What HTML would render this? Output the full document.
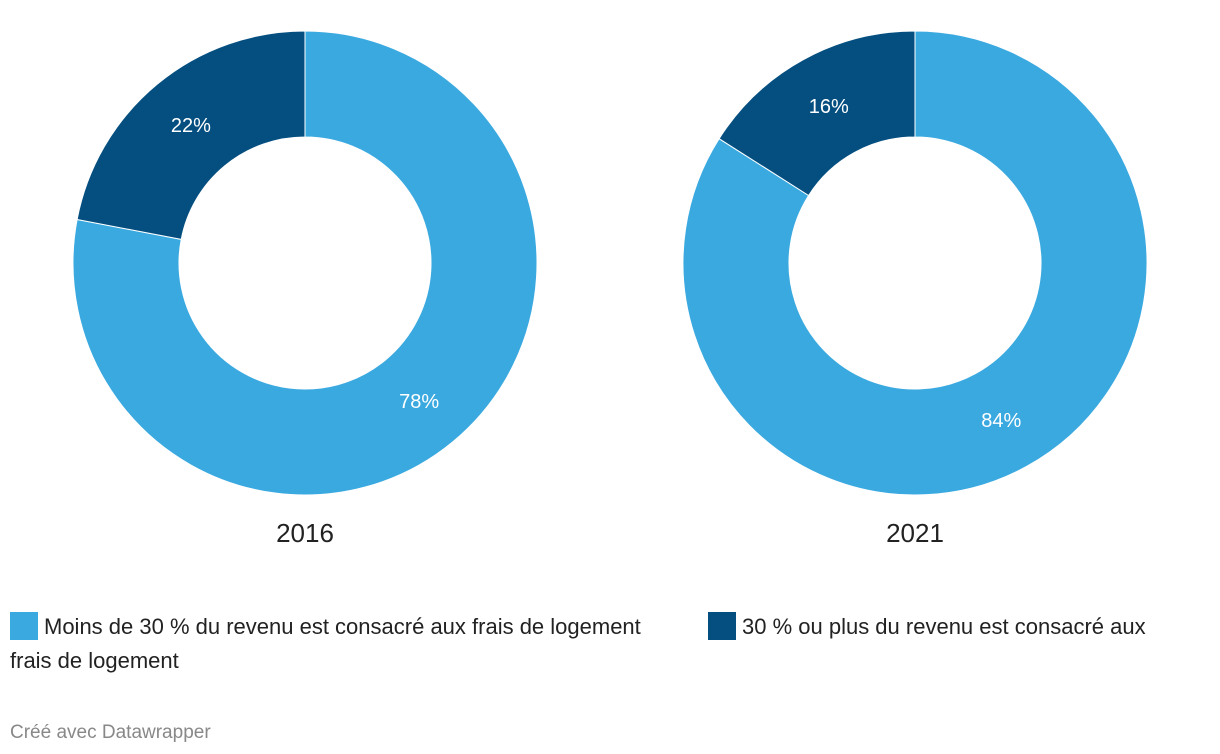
<!DOCTYPE html>
<html><head><meta charset="utf-8"><style>
html,body{margin:0;padding:0;background:#fff;}
svg{display:block;font-family:"Liberation Sans",sans-serif;}
</style></head><body>
<svg id="chart" width="1220" height="754" viewBox="0 0 1220 754">
<g id="donuts"></g>
<g>
 <g>
  <rect x="10" y="612" width="28" height="28" fill="#3aa9e0"/>
  <text x="44" y="634" font-size="22" fill="#222">Moins de 30 % du revenu est consacré aux frais de logement</text>
 </g>
 <g>
  <rect x="708" y="612" width="28" height="28" fill="#044f80"/>
  <text x="742" y="634" font-size="22" fill="#222">30 % ou plus du revenu est consacré aux</text>
  <text x="10" y="668" font-size="22" fill="#222">frais de logement</text>
 </g>
</g>
<text x="10" y="738" font-size="19" fill="#888">Créé avec Datawrapper</text>
</svg>
<script>
const years = ["2016", "2021"];
const lowShare = [78, 84];
const highShare = [22, 16];
const colors = ["#3aa9e0", "#044f80"];

const centersX = [305, 915], cy = 263, R = 232, r = 126, LR = 179;
const ns = "http://www.w3.org/2000/svg";
const g = document.getElementById("donuts");
function pt(cx, rad, frac){const a=frac*2*Math.PI;return [cx+rad*Math.sin(a), cy-rad*Math.cos(a)];}
function arc(cx,f0,f1){
  const [x0,y0]=pt(cx,R,f0),[x1,y1]=pt(cx,R,f1),[x2,y2]=pt(cx,r,f1),[x3,y3]=pt(cx,r,f0);
  const large=(f1-f0)>0.5?1:0;
  return `M${x0},${y0}A${R},${R} 0 ${large} 1 ${x1},${y1}L${x2},${y2}A${r},${r} 0 ${large} 0 ${x3},${y3}Z`;
}
years.forEach((yr,i)=>{
  const cx=centersX[i];
  const vals=[lowShare[i], highShare[i]];
  const total=vals[0]+vals[1];
  let f=0;
  vals.forEach((v,j)=>{
    const f1=f+v/total;
    const p=document.createElementNS(ns,"path");
    p.setAttribute("d",arc(cx,f,f1));
    p.setAttribute("fill",colors[j]);
    p.setAttribute("stroke","#fff");
    p.setAttribute("stroke-width","1");
    
    
    g.appendChild(p);
    const [lx,ly]=pt(cx,LR,(f+f1)/2);
    const t=document.createElementNS(ns,"text");
    t.setAttribute("x",lx);t.setAttribute("y",ly+7);
    t.setAttribute("text-anchor","middle");t.setAttribute("font-size","20");t.setAttribute("fill","#fff");
    t.textContent=v+"%";
    
    
    g.appendChild(t);
    f=f1;
  });
  const yt=document.createElementNS(ns,"text");
  yt.setAttribute("x",cx);yt.setAttribute("y",542);
  yt.setAttribute("text-anchor","middle");yt.setAttribute("font-size","26");yt.setAttribute("fill","#222");
  yt.textContent=yr;
  
  
  g.appendChild(yt);
});
</script>
</body></html>
